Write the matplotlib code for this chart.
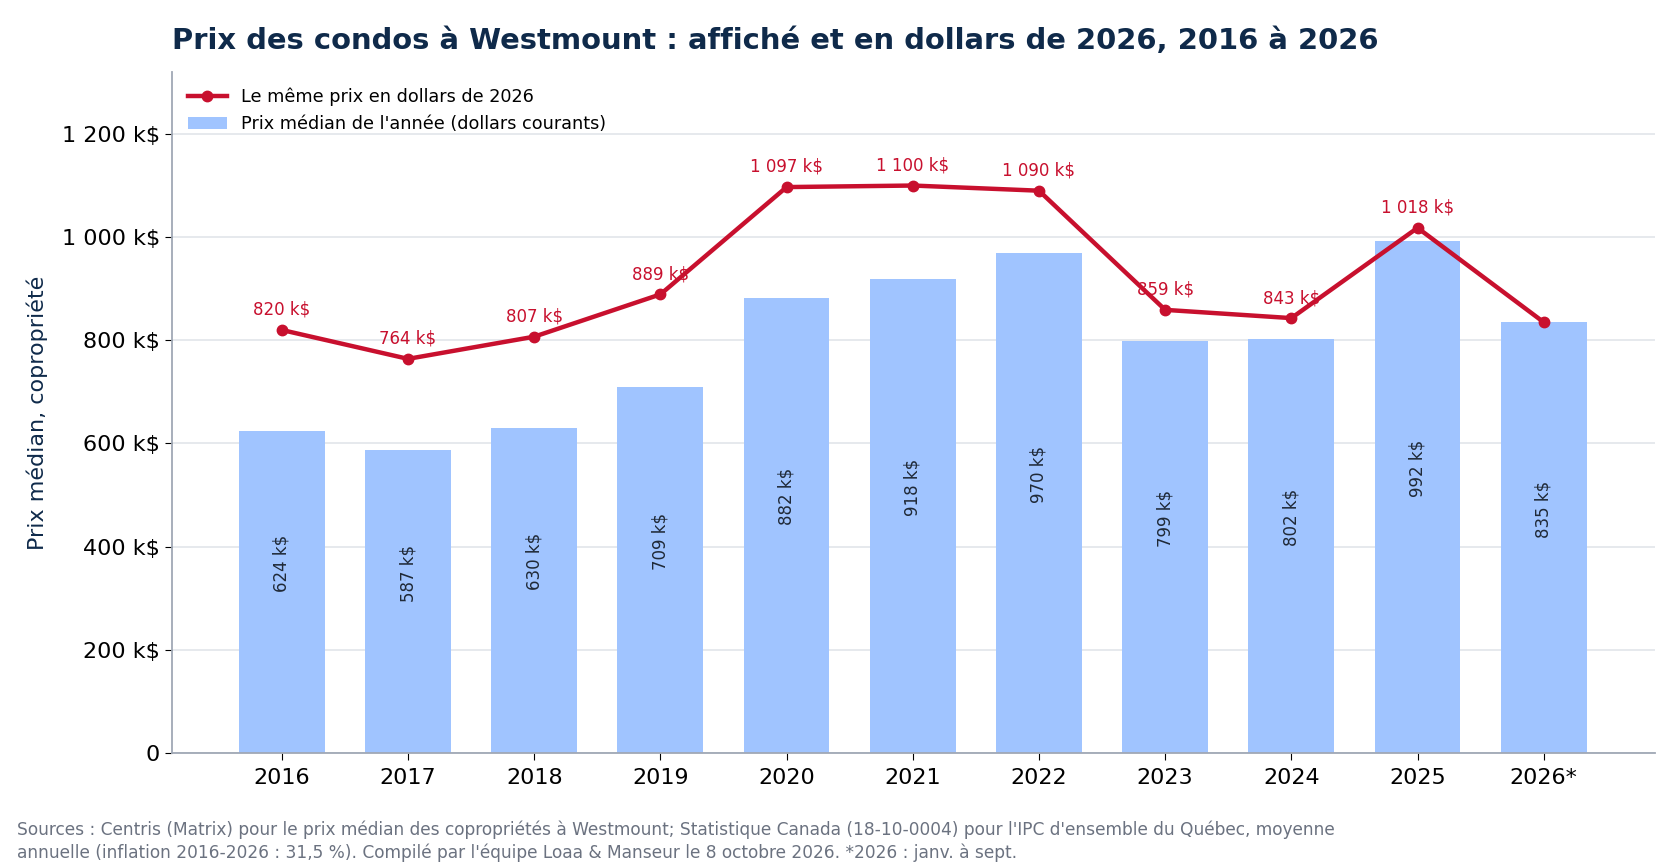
import matplotlib
matplotlib.use("Agg")
import matplotlib.pyplot as plt
from matplotlib.ticker import FuncFormatter
import numpy as np

# data (thousands of dollars)
years = ["2016", "2017", "2018", "2019", "2020", "2021", "2022", "2023", "2024", "2025", "2026*"]
median_price = [624, 587, 630, 709, 882, 918, 970, 799, 802, 992, 835]
price_2026_dollars = [820, 764, 807, 889, 1097, 1100, 1090, 859, 843, 1018, 835]

NAVY = "#0f2a4a"
RED = "#c8102e"
BLUE = "#a0c4ff"
GREY = "#6b7280"


def fmt_k(v):
    """format thousands with a space separator, ex: 1 097 k$"""
    if v == 0:
        return "0"
    return f"{int(round(v)):,}".replace(",", " ") + " k$"


fig = plt.figure(figsize=(16.8, 8.68), dpi=100)
ax = fig.add_axes([0.1024, 0.1325, 0.8826, 0.7845])

x = np.arange(len(years))
ax.plot(x, price_2026_dollars, color=RED, lw=3.2, marker="o", markersize=7.5, zorder=3,
        label="Le même prix en dollars de 2026")
ax.bar(x, median_price, width=0.68, color=BLUE, zorder=2,
       label="Prix médian de l'année (dollars courants)")

# labels inside the bars
for xi, v in zip(x, median_price):
    ax.text(xi, v / 2, fmt_k(v), rotation=90, ha="center", va="bottom",
            fontsize=12, color="#1f2937", zorder=4)

# labels above the line (last point left without)
for xi, v in zip(x[:-1], price_2026_dollars[:-1]):
    ax.annotate(fmt_k(v), (xi, v), xytext=(0, 8), textcoords="offset points",
                ha="center", va="bottom", fontsize=12, color=RED, zorder=4)

ax.set_xlim(-0.87, 10.88)
ax.set_ylim(0, 1320)
ax.set_yticks([0, 200, 400, 600, 800, 1000, 1200])
ax.yaxis.set_major_formatter(FuncFormatter(lambda v, p: fmt_k(v)))
ax.set_xticks(x)
ax.set_xticklabels(years)
ax.tick_params(axis="both", labelsize=16, colors="black")
ax.tick_params(axis="y", length=5)
ax.tick_params(axis="x", length=5, pad=6)

ax.grid(axis="y", color="#e2e5ea", lw=1.2, zorder=0)
ax.set_axisbelow(True)
for s in ["top", "right"]:
    ax.spines[s].set_visible(False)
for s in ["left", "bottom"]:
    ax.spines[s].set_color("#a0a8b5")
    ax.spines[s].set_linewidth(1.3)

ax.set_ylabel("Prix médian, copropriété", fontsize=16, color=NAVY, labelpad=10)

ax.legend(loc="upper left", frameon=False, fontsize=12.7,
          bbox_to_anchor=(0.0, 1.0), handlelength=2.2)

fig.text(0.1024, 0.953, "Prix des condos à Westmount : affiché et en dollars de 2026, 2016 à 2026",
         fontsize=20.9, fontweight="bold", color=NAVY, ha="left", va="center")

fig.text(0.0101, 0.007,
         "Sources : Centris (Matrix) pour le prix médian des copropriétés à Westmount; Statistique Canada "
         "(18-10-0004) pour l'IPC d'ensemble du Québec, moyenne\n"
         "annuelle (inflation 2016-2026 : 31,5 %). Compilé par l'équipe Loaa & Manseur le 8 octobre 2026. "
         "*2026 : janv. à sept.",
         fontsize=12.25, color=GREY, ha="left", va="bottom", linespacing=1.3)

fig.savefig("out.png", dpi=100)
